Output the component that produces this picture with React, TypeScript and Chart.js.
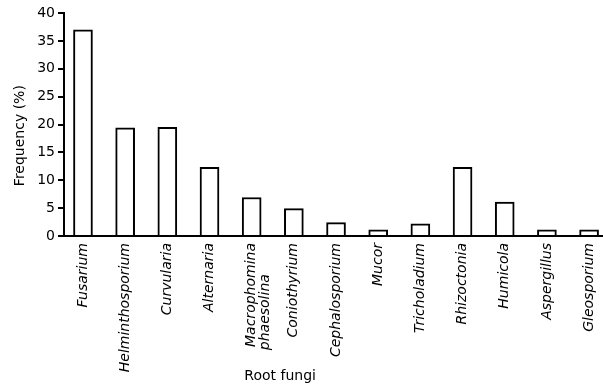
import React, { useEffect, useRef } from 'react';
import { Chart, registerables } from 'chart.js';

Chart.register(...registerables);

const NB = '\u00A0';
const pad = (n: number) => NB.repeat(n);

const categories: (string | string[])[] = [
  'Fusarium',
  'Helminthosporium',
  'Curvularia',
  'Alternaria',
  ['Macrophomina', 'phaesolina' + pad(7)],
  'Coniothyrium',
  'Cephalosporium',
  'Mucor',
  'Tricholadium',
  'Rhizoctonia',
  'Humicola',
  'Aspergillus',
  'Gleosporium',
];
const frequency = [37, 19.4, 19.5, 12.3, 6.9, 4.9, 2.4, 1.1, 2.2, 12.3, 6.1, 1.1, 1.1];
const yTicks = [0, 5, 10, 15, 20, 25, 30, 35, 40];

const xTitle = 'Root fungi';
const yTitle = 'Frequency (%)';

const FONT = 'DejaVu Sans';

export default function App() {
  const ref = useRef<HTMLCanvasElement | null>(null);

  useEffect(() => {
    if (!ref.current) return;
    const chart = new Chart(ref.current, {
      type: 'bar',
      data: {
        datasets: [
          {
            data: frequency.map((v, i) => ({ x: i, y: v })),
            backgroundColor: '#ffffff',
            borderColor: '#000000',
            borderWidth: 2,
            barThickness: 19,
          },
        ],
      },
      options: {
        animation: false,
        responsive: false,
        layout: { padding: { top: 13, right: 0, bottom: 0, left: 0 } },
        plugins: { legend: { display: false }, tooltip: { enabled: false } },
        scales: {
          x: {
            type: 'linear',
            offset: false,
            min: -0.45,
            max: 12.33,
            afterBuildTicks: (s: any) => {
              s.ticks = categories.map((_, i) => ({ value: i }));
            },
            afterFit: (s: any) => {
              s.height = 154;
              s.paddingRight = 0;
              s.paddingLeft = 0;
            },
            grid: { display: false, drawTicks: false, offset: false },
            border: { display: true, color: '#000000', width: 2 },
            ticks: {
              autoSkip: false,
              minRotation: 90,
              maxRotation: 90,
              padding: 7,
              color: '#000000',
              font: { family: FONT, size: 14, style: 'italic', lineHeight: 0.95 },
              callback: (v: any) => categories[v as number] as any,
            },
            title: {
              display: true,
              text: xTitle + pad(24),
              color: '#000000',
              font: { family: FONT, size: 14 },
              padding: { top: 0, bottom: 5 },
            },
          },
          y: {
            min: 0,
            max: 40,
            afterBuildTicks: (s: any) => {
              s.ticks = yTicks.map((v) => ({ value: v }));
            },
            afterFit: (s: any) => {
              s.width = 64;
            },
            grid: {
              drawOnChartArea: false,
              drawTicks: true,
              tickLength: 6,
              color: '#000000',
              lineWidth: 2,
            },
            border: { display: true, color: '#000000', width: 2 },
            ticks: {
              padding: 3,
              color: '#000000',
              font: { family: FONT, size: 14 },
            },
            title: {
              display: true,
              text: yTitle + pad(5),
              color: '#000000',
              font: { family: FONT, size: 14 },
              padding: { top: 12, bottom: 0 },
            },
          },
        },
      },
    });
    return () => chart.destroy();
  }, []);

  return (
    <div style={{ position: 'absolute', left: 0, top: 0, width: 603, height: 390, background: '#fff' }}>
      <canvas ref={ref} width={603} height={390} style={{ display: 'block', width: 603, height: 390 }} />
    </div>
  );
}
